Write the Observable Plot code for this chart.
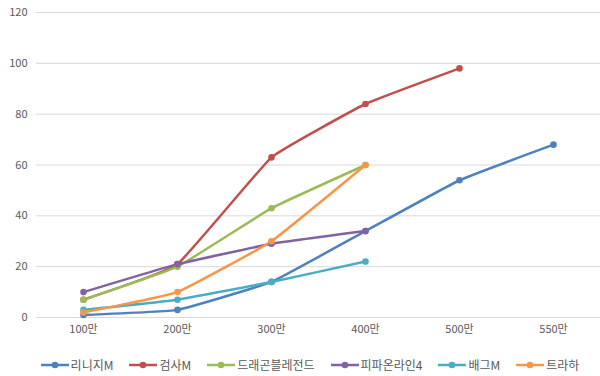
<!DOCTYPE html>
<html><head><meta charset="utf-8">
<script src="https://cdn.jsdelivr.net/npm/d3@7"></script>
<script src="https://cdn.jsdelivr.net/npm/@observablehq/plot@0.6"></script>
<style>
body{margin:0;background:#fff;font-family:"Noto Sans CJK KR","Noto Sans",sans-serif;}
#legend{display:flex;justify-content:center;gap:16px;font-size:12px;color:#595959;margin-left:20px;margin-top:11px;}
#legend span{display:flex;align-items:center;gap:2px;}
</style></head><body>
<div id="chart"></div>
<div id="legend"></div>
<script>
const categories = ["100만","200만","300만","400만","500만","550만"];
const seriesNames = ["리니지M","검사M","드래곤블레전드","피파온라인4","배그M","트라하"];
const colors = ["#4F81BD","#C0504D","#9BBB59","#8064A2","#4BACC6","#F79646"];
const lineageM = [1,3,14,34,54,68];
const gumsaM = [7,21,63,84,98,null];
const dragon = [7,20,43,60,null,null];
const fifa = [10,21,29,34,null,null];
const pubgM = [3,7,14,22,null,null];
const traha = [2,10,30,60,null,null];
const yTicks = [0,20,40,60,80,100,120];

const allSeries = [lineageM,gumsaM,dragon,fifa,pubgM,traha];
const data = [];
allSeries.forEach((vals,i)=>vals.forEach((v,j)=>{ if(v!=null) data.push({series:seriesNames[i],cat:categories[j],value:v}); }));

const chart = Plot.plot({
  width:600, height:345,
  marginLeft:36, marginRight:0, marginTop:12, marginBottom:28,
  style:{fontFamily:'"Noto Sans CJK KR","Noto Sans",sans-serif',fontSize:"11px",color:"#595959"},
  x:{type:"point",domain:categories,padding:0.5,label:null,tickSize:0,tickPadding:8},
  y:{domain:[0,120],ticks:yTicks,label:null,tickSize:0,tickPadding:9},
  color:{domain:seriesNames,range:colors},
  marks:[
    Plot.ruleY(yTicks,{stroke:"#d9d9d9",strokeWidth:1}),
    Plot.line(data,{x:"cat",y:"value",z:"series",stroke:"series",strokeWidth:2.5,curve:d3.curveCardinal.tension(0.7)}),
    Plot.dot(data,{x:"cat",y:"value",fill:"series",r:3.3})
  ]
});
document.getElementById("chart").appendChild(chart);

const legend = document.getElementById("legend");
seriesNames.forEach((n,i)=>{
  const s=document.createElement("span");
  s.innerHTML=`<svg width="28" height="10"><line x1="0" x2="28" y1="5" y2="5" stroke="${colors[i]}" stroke-width="2.5"/><circle cx="14" cy="5" r="3.3" fill="${colors[i]}"/></svg>${n}`;
  legend.appendChild(s);
});
</script>
</body></html>
